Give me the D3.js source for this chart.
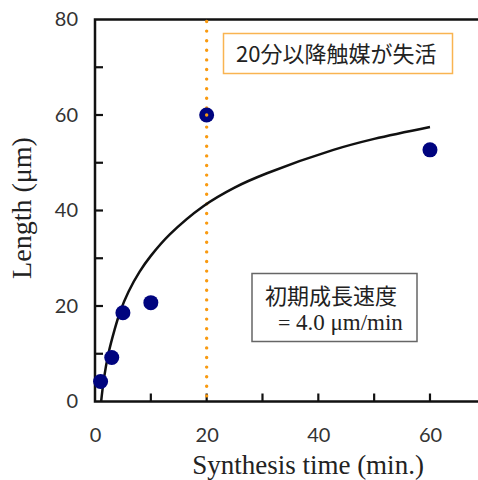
<!DOCTYPE html>
<html>
<head>
<meta charset="utf-8">
<script src="https://cdn.jsdelivr.net/npm/d3@7"></script>
<style>
  body { margin: 0; background: #fff; }
  svg { display: block; }
</style>
</head>
<body>
<div id="vis"></div>
<script>
// measured points (time in min, length in um)
const times = [1, 3, 5, 10, 20, 60]
const lengths = [4.2, 9.2, 18.6, 20.7, 60, 52.7]

// fitted curve
const curveX = [1.1, 1.6, 2.4, 3.5, 4.5, 6, 8, 10, 13.4, 19.4, 25, 30.8, 42.7, 50, 60]
const curveY = [0, 4.8, 10, 15, 18.8, 23, 27.2, 30.5, 35, 40.9, 44.8, 47.8, 52.7, 55, 57.5]

const xTicks = [0, 10, 20, 30, 40, 50, 60]
const xLabels = [0, 20, 40, 60]
const yTicks = [0, 10, 20, 30, 40, 50, 60, 70, 80]
const yLabels = [0, 20, 40, 60, 80]
const stopTime = 20

const W = 478, H = 480
const margin = {left: 95, top: 19.5, bottom: 78.5}

const svg = d3.select('#vis').append('svg')
	.attr('width', W)
	.attr('height', H)

const x = d3.scaleLinear([0, 70], [margin.left, margin.left + 70 * 5.583])
const y = d3.scaleLinear([0, 80], [H - margin.bottom, margin.top])

// frame (right side falls outside the picture)
svg.append('rect')
	.attr('x', x(0)).attr('y', y(80))
	.attr('width', x(70) - x(0)).attr('height', y(0) - y(80))
	.attr('fill', 'none')
	.attr('stroke', '#111')
	.attr('stroke-width', 2.5)

// inward ticks
svg.append('g').selectAll('line')
	.data(xTicks.filter(d => d > 0)).enter()
	.append('line')
	.attr('x1', d => x(d)).attr('x2', d => x(d))
	.attr('y1', y(0)).attr('y2', y(0) - 8)
	.attr('stroke', '#111')
	.attr('stroke-width', 2.2)

svg.append('g').selectAll('line')
	.data(yTicks.filter(d => d > 0 && d < 80)).enter()
	.append('line')
	.attr('x1', x(0)).attr('x2', x(0) + 8)
	.attr('y1', d => y(d)).attr('y2', d => y(d))
	.attr('stroke', '#111')
	.attr('stroke-width', 2.2)

// labels through the axis generators, their lines hidden
const xAxis = d3.axisBottom(x)
	.tickValues(xLabels)
	.tickSize(0)
	.tickPadding(26)
svg.append('g')
	.attr('class', 'ax')
	.attr('transform', `translate(0,${y(0)})`)
	.call(xAxis)

const yAxis = d3.axisLeft(y)
	.tickValues(yLabels)
	.tickSize(0)
	.tickPadding(17)
svg.append('g')
	.attr('class', 'ax')
	.attr('transform', `translate(${x(0)},0)`)
	.call(yAxis)

svg.selectAll('.ax .domain').remove()
svg.selectAll('.ax .tick line').remove()
svg.selectAll('.ax .tick text')
	.attr('font-family', 'Lato, "Open Sans", sans-serif')
	.attr('font-size', 20)
	.attr('fill', '#333')

// deactivation line
svg.append('line')
	.attr('x1', x(stopTime)).attr('x2', x(stopTime))
	.attr('y1', y(80) + 2).attr('y2', y(0))
	.attr('stroke', '#f99a10')
	.attr('stroke-width', 3.4)
	.attr('stroke-linecap', 'round')
	.attr('stroke-dasharray', '0 9.6')

// fit curve
const fit = curveX.map((d, i) => [d, curveY[i]])
svg.append('path')
	.datum(fit)
	.attr('fill', 'none')
	.attr('stroke', '#111')
	.attr('stroke-width', 2.5)
	.attr('d', d3.line().x(d => x(d[0])).y(d => y(d[1])).curve(d3.curveCatmullRom.alpha(0.5)))

// points
svg.selectAll('circle.pt')
	.data(times.map((d, i) => ({t: d, l: lengths[i]})))
	.enter()
	.append('circle')
	.attr('class', 'pt')
	.attr('cx', d => x(d.t))
	.attr('cy', d => y(d.l))
	.attr('r', 7.5)
	.attr('fill', '#00047f')

// dotted line shows through the dot at 20 min
svg.append('circle')
	.attr('cx', x(stopTime)).attr('cy', y(60))
	.attr('r', 1.7)
	.attr('fill', '#f99a10')

// note boxes
const jp = '"Noto Sans CJK JP", sans-serif'
const serif = '"Liberation Serif", "DejaVu Serif", serif'

svg.append('rect')
	.attr('x', 223.5).attr('y', 33.5)
	.attr('width', 229).attr('height', 40)
	.attr('fill', '#fff')
	.attr('stroke', '#f9b451')
	.attr('stroke-width', 1.5)
svg.append('text')
	.attr('x', 236).attr('y', 62)
	.attr('font-family', jp)
	.attr('font-size', 22)
	.attr('fill', '#222')
	.text('20分以降触媒が失活')

svg.append('rect')
	.attr('x', 252).attr('y', 273.5)
	.attr('width', 165).attr('height', 68)
	.attr('fill', '#fff')
	.attr('stroke', '#666')
	.attr('stroke-width', 1.5)
svg.append('text')
	.attr('x', 265).attr('y', 304)
	.attr('font-family', jp)
	.attr('font-size', 22)
	.attr('fill', '#222')
	.text('初期成長速度')
const rate = svg.append('text')
	.attr('x', 278).attr('y', 330)
	.attr('fill', '#222')
rate.append('tspan')
	.attr('font-family', serif)
	.attr('font-size', 22)
	.text('= ')
rate.append('tspan')
	.attr('font-family', serif)
	.attr('font-size', 23)
	.text('4.0 μm/min')

// axis titles
svg.append('text')
	.attr('x', 308).attr('y', 474)
	.attr('text-anchor', 'middle')
	.attr('font-family', serif)
	.attr('font-size', 27)
	.attr('fill', '#222')
	.text('Synthesis time (min.)')

svg.append('text')
	.attr('transform', `translate(31,208) rotate(-90)`)
	.attr('text-anchor', 'middle')
	.attr('font-family', serif)
	.attr('font-size', 28)
	.attr('fill', '#222')
	.text('Length (μm)')
</script>
</body>
</html>
